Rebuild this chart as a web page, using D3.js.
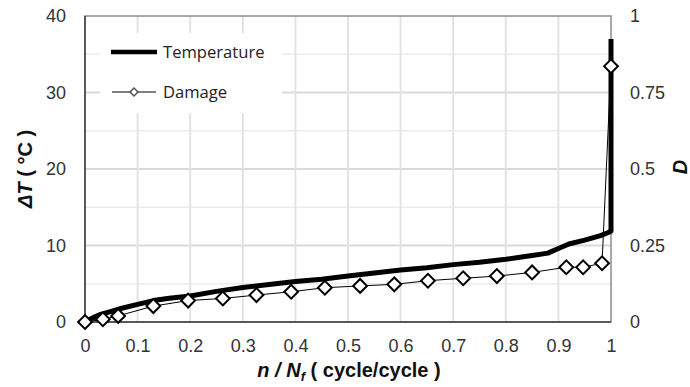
<!DOCTYPE html>
<html><head><meta charset="utf-8">
<script src="https://cdn.jsdelivr.net/npm/d3@7"></script>
<style>
html,body{margin:0;padding:0;background:#fff;}
svg{display:block;}
</style></head>
<body>
<svg id="chart" width="690" height="387"></svg>
<script>
// Temperature rise (°C) vs life fraction
const tempX = [0,0.01,0.02,0.03,0.05,0.07,0.10,0.13,0.16,0.20,0.25,0.30,0.35,0.40,0.45,0.50,0.55,0.60,0.65,0.70,0.75,0.80,0.85,0.88,0.90,0.92,0.95,0.98,0.995,1.0,1.0];
const tempY = [0,0.4,0.7,1.0,1.4,1.8,2.3,2.8,3.1,3.4,4.0,4.5,4.9,5.3,5.6,6.0,6.4,6.8,7.1,7.5,7.8,8.2,8.7,9.0,9.6,10.2,10.7,11.3,11.7,11.9,37.0];
// Damage D vs life fraction
const dmgX = [0,0.034,0.063,0.13,0.196,0.262,0.326,0.392,0.456,0.523,0.588,0.652,0.719,0.783,0.85,0.915,0.947,0.983,1.0];
const dmgY = [0,0.009,0.02,0.052,0.07,0.077,0.088,0.099,0.112,0.118,0.123,0.135,0.143,0.15,0.162,0.179,0.179,0.192,0.836];
const xTicks = [0,0.1,0.2,0.3,0.4,0.5,0.6,0.7,0.8,0.9,1];
const xTickLabels = ["0","0.1","0.2","0.3","0.4","0.5","0.6","0.7","0.8","0.9","1"];
const yLeftTicks = [0,10,20,30,40];
const yMinorTicks = [5,15,25,35];
const yRightTicks = [0,0.25,0.5,0.75,1];
const yRightLabels = ["0","0.25","0.5","0.75","1"];
const legendLabels = ["Temperature","Damage"];

const svg = d3.select("#chart");
const L = 85, R = 611, T = 16, B = 322;
const x = d3.scaleLinear().domain([0,1]).range([L,R]);
const yL = d3.scaleLinear().domain([0,40]).range([B,T]);
const yR = d3.scaleLinear().domain([0,1]).range([B,T]);

const tickFont = "'Liberation Sans', Arial, sans-serif";
const tickColor = "#333";

// gridlines
const g = svg.append("g");
g.selectAll(".minor").data(yMinorTicks).join("line")
  .attr("x1",L).attr("x2",R).attr("y1",d=>yL(d)).attr("y2",d=>yL(d))
  .attr("stroke","#ececec").attr("stroke-width",1.5);
g.selectAll(".major").data(yLeftTicks.slice(1,-1)).join("line")
  .attr("x1",L).attr("x2",R).attr("y1",d=>yL(d)).attr("y2",d=>yL(d))
  .attr("stroke","#d9d9d9").attr("stroke-width",2);
g.selectAll(".vgrid").data(xTicks.slice(1,-1)).join("line")
  .attr("x1",d=>x(d)).attr("x2",d=>x(d)).attr("y1",T).attr("y2",B)
  .attr("stroke","#e3e3e3").attr("stroke-width",2);

// plot border
svg.append("rect").attr("x",L).attr("y",T).attr("width",R-L).attr("height",B-T)
  .attr("fill","none").attr("stroke","#8c8c8c").attr("stroke-width",1.5);
svg.append("line").attr("x1",L).attr("x2",L).attr("y1",T).attr("y2",B)
  .attr("stroke","#595959").attr("stroke-width",2);
svg.append("line").attr("x1",L).attr("x2",R).attr("y1",B).attr("y2",B)
  .attr("stroke","#595959").attr("stroke-width",2);

// legend background
svg.append("rect").attr("x",100).attr("y",33).attr("width",182).attr("height",80).attr("fill","#fff");

// axes tick labels via d3 axes
const axB = d3.axisBottom(x).tickValues(xTicks).tickFormat((d,i)=>xTickLabels[i]).tickSize(0).tickPadding(17);
const gB = svg.append("g").attr("transform",`translate(0,${B})`).call(axB);
const axLft = d3.axisLeft(yL).tickValues(yLeftTicks).tickSize(0).tickPadding(19);
const gL = svg.append("g").attr("transform",`translate(${L},0)`).call(axLft);
const axRt = d3.axisRight(yR).tickValues(yRightTicks).tickFormat((d,i)=>yRightLabels[i]).tickSize(0).tickPadding(19);
const gR = svg.append("g").attr("transform",`translate(${R},0)`).call(axRt);
[gB,gL,gR].forEach(a=>{
  a.select(".domain").remove();
  a.selectAll("text").attr("font-family",tickFont).attr("font-size",18).attr("fill",tickColor);
});

// temperature line
const tempData = tempX.map((v,i)=>[v,tempY[i]]);
svg.append("path").datum(tempData)
  .attr("d", d3.line().x(d=>x(d[0])).y(d=>yL(d[1])))
  .attr("fill","none").attr("stroke","#000").attr("stroke-width",5).attr("stroke-linejoin","round");

// damage line + markers
const dmgData = dmgX.map((v,i)=>[v,dmgY[i]]);
svg.append("path").datum(dmgData)
  .attr("d", d3.line().x(d=>x(d[0])).y(d=>yR(d[1])))
  .attr("fill","none").attr("stroke","#000").attr("stroke-width",1);
svg.selectAll(".dm").data(dmgData).join("path")
  .attr("d", d3.symbol().type(d3.symbolSquare).size(95)())
  .attr("transform",d=>`translate(${x(d[0])},${yR(d[1])}) rotate(45)`)
  .attr("fill","#fff").attr("stroke","#000").attr("stroke-width",2);

// legend
const lf = "'Open Sans', sans-serif";
svg.append("line").attr("x1",111).attr("x2",157).attr("y1",52).attr("y2",52)
  .attr("stroke","#000").attr("stroke-width",4.5);
svg.append("text").attr("x",163).attr("y",57.5).text(legendLabels[0])
  .attr("font-family",lf).attr("font-size",16.6).attr("fill","#222");
svg.append("line").attr("x1",112).attr("x2",156).attr("y1",92).attr("y2",92)
  .attr("stroke","#000").attr("stroke-width",1);
svg.append("path").attr("d", d3.symbol().type(d3.symbolSquare).size(32)())
  .attr("transform","translate(134,92) rotate(45)")
  .attr("fill","#fff").attr("stroke","#555").attr("stroke-width",1.5);
svg.append("text").attr("x",163).attr("y",97.5).text(legendLabels[1])
  .attr("font-family",lf).attr("font-size",16.6).attr("fill","#222");

// axis titles
const yt = svg.append("text").attr("transform","translate(32,169) rotate(-90)")
  .attr("text-anchor","middle").attr("font-family",tickFont).attr("font-size",20)
  .attr("font-weight","bold").attr("fill","#111");
yt.append("tspan").attr("font-style","italic").text("ΔT");
yt.append("tspan").text(" ( °C )");

svg.append("text").attr("transform","translate(687,167) rotate(-90)")
  .attr("text-anchor","middle").attr("font-family",tickFont).attr("font-size",20)
  .attr("font-weight","bold").attr("font-style","italic").attr("fill","#111").text("D");

const xt = svg.append("text").attr("x",349).attr("y",377)
  .attr("text-anchor","middle").attr("font-family",tickFont).attr("font-size",20)
  .attr("font-weight","bold").attr("fill","#111");
xt.append("tspan").attr("font-style","italic").text("n / N");
xt.append("tspan").attr("font-style","italic").attr("font-size",13).attr("dy",4).text("f");
xt.append("tspan").attr("dy",-4).text(" ( cycle/cycle )");
</script>
</body></html>
